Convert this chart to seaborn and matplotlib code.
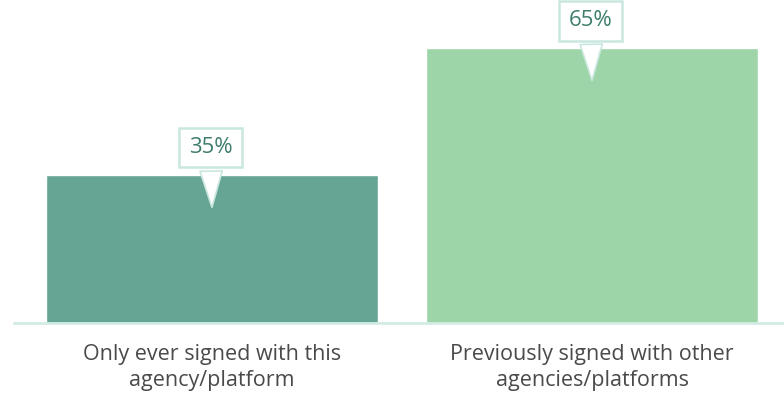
import matplotlib
matplotlib.use("Agg")
import matplotlib.pyplot as plt
import seaborn as sns
import pandas as pd

categories = ["Only ever signed with this\nagency/platform",
              "Previously signed with other\nagencies/platforms"]
values = [35, 65]
colors = ["#66a493", "#9dd4a8"]

sns.set_style("white")
plt.rcParams["font.family"] = ["Open Sans", "DejaVu Sans"]

df = pd.DataFrame({"cat": categories, "val": values})

fig = plt.figure(figsize=(7.84, 4.05), dpi=100)
ax = fig.add_axes([14 / 784, 82 / 405, 770 / 784, 323 / 405])
sns.barplot(data=df, x="cat", y="val", hue="cat", palette=colors,
            legend=False, width=0.874, saturation=1, ax=ax)

ax.set_xlim(-0.521, 1.505)
ax.set_ylim(0, 76.4)
ax.set_xlabel("")
ax.set_ylabel("")
ax.set_yticks([])
for s in ["top", "right", "left"]:
    ax.spines[s].set_visible(False)
ax.spines["bottom"].set_color("#d3ebe5")
ax.spines["bottom"].set_linewidth(2)
ax.tick_params(axis="x", length=0, pad=15, labelsize=15.5, labelcolor="#4a4a4a")
for lab in ax.get_xticklabels():
    lab.set_linespacing(1.35)

# callouts
for i, v in enumerate(values):
    ax.annotate(f"{v}%", xy=(i, v - 8.3), xycoords="data",
                xytext=(-1, 45), textcoords="offset points",
                ha="center", va="center", fontsize=16, color="#3e7d6c",
                bbox=dict(boxstyle="square,pad=0.42", fc="white",
                          ec="#c9e6df", lw=1.8),
                arrowprops=dict(arrowstyle="wedge,tail_width=1.0,shrink_factor=0.5",
                                fc="white", ec="#c9e6df", lw=1.2,
                                connectionstyle="arc3,rad=0"),
                annotation_clip=False)

fig.savefig("out.png", dpi=100)
